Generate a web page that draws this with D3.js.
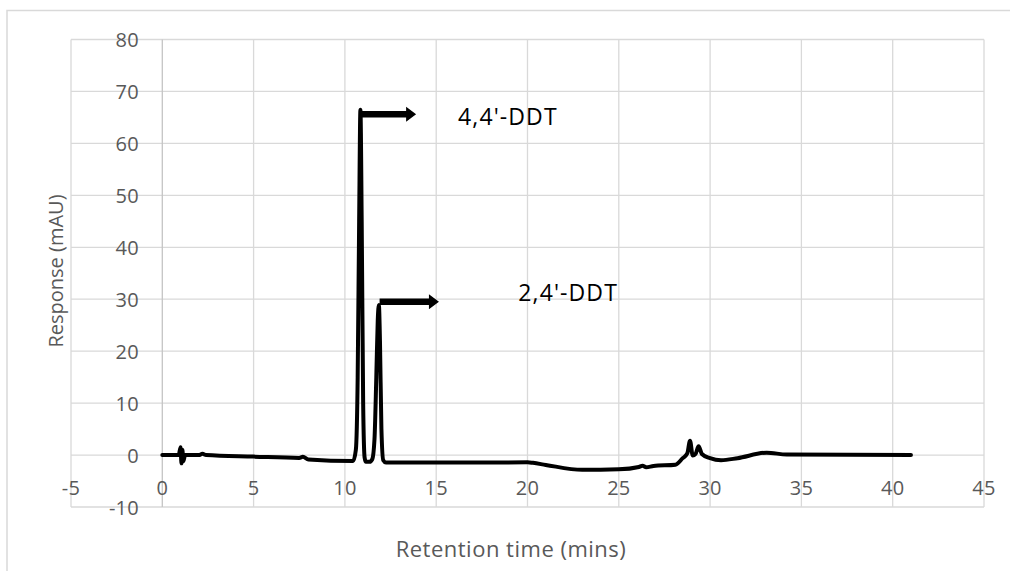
<!DOCTYPE html>
<html>
<head>
<meta charset="utf-8">
<script src="https://cdn.jsdelivr.net/npm/d3@7"></script>
<style>
  html, body { margin: 0; padding: 0; background: #fff; }
  svg { display: block; }
</style>
</head>
<body>
<svg id="chart" width="1010" height="571"></svg>
<script>
// ---- data ----
const retentionTime = [0, 0.9, 1.0, 1.05, 1.1, 1.15, 1.25, 2.0, 2.2, 2.4, 5, 7.5, 7.7, 8.0, 10.45,
  10.6, 10.7, 10.78, 10.85, 10.92, 11.0, 11.08, 11.15, 11.35, 11.5, 11.62, 11.72, 11.8, 11.86, 11.92,
  12.0, 12.1, 12.25, 15, 20, 20.3, 21, 23, 25, 26.1, 26.3, 26.5, 26.9, 28.1, 28.5, 28.75, 28.9, 29.05,
  29.2, 29.37, 29.55, 30.0, 30.6, 31.5, 33.1, 34.2, 41];
const response = [0, 0, 1.5, -1.6, 1.0, -1.2, 0, 0, 0.25, 0, -0.3, -0.55, -0.35, -0.85, -1.15,
  1, 15, 45, 66.5, 45, 10, -0.5, -1.3, -1.3, -0.8, 3, 15, 26, 28.9, 22,
  5, -1.0, -1.45, -1.45, -1.4, -1.5, -1.9, -2.85, -2.75, -2.3, -2.05, -2.35, -2.1, -1.85, -0.6, 0.3, 2.75, -0.1,
  0.2, 1.7, 0.2, -0.6, -1.0, -0.6, 0.45, 0.1, 0.0];

const xTicks = [-5, 0, 5, 10, 15, 20, 25, 30, 35, 40, 45];
const yTicks = [-10, 0, 10, 20, 30, 40, 50, 60, 70, 80];

const peakNames = ["4,4'-DDT", "2,4'-DDT"];
const arrowFromX = [10.85, 11.9];
const arrowToX = [13.9, 15.15];
const arrowY = [65.6, 29.5];
const labelX = [16.2, 19.5];
const labelY = [63.5, 29.6];

const xTitle = "Retention time (mins)";
const yTitle = "Response (mAU)";

// ---- drawing ----
const svg = d3.select("#chart");
const x = d3.scaleLinear().domain([-5, 45]).range([71, 984]);
const y = d3.scaleLinear().domain([-10, 80]).range([507, 39.5]);

svg.append("rect").attr("width", 1010).attr("height", 571).attr("fill", "#fff");
// chart-area border (partially visible)
svg.append("rect").attr("x", 7).attr("y", 10.5).attr("width", 1100).attr("height", 700)
  .attr("fill", "none").attr("stroke", "#d9d9d9").attr("stroke-width", 1.5);

const grid = svg.append("g");
grid.selectAll("line.h").data(yTicks).join("line")
  .attr("x1", x(-5)).attr("x2", x(45))
  .attr("y1", d => y(d)).attr("y2", d => y(d))
  .attr("stroke", "#d9d9d9").attr("stroke-width", 1.3);
grid.selectAll("line.v").data(xTicks).join("line")
  .attr("x1", d => x(d)).attr("x2", d => x(d))
  .attr("y1", y(80)).attr("y2", y(-10))
  .attr("stroke", d => d === 0 ? "#c4c4c4" : "#d9d9d9").attr("stroke-width", 1.3);

// tick labels
const tickFont = "'Open Sans', 'Noto Sans', sans-serif";
svg.append("g").selectAll("text").data(yTicks).join("text")
  .attr("x", x(0) - 23.5).attr("y", d => y(d))
  .attr("text-anchor", "end").attr("dominant-baseline", "central")
  .attr("font-family", tickFont).attr("font-size", 20).attr("letter-spacing", 0.2)
  .attr("fill", "#595959").text(d => d);
svg.append("g").selectAll("text").data(xTicks).join("text")
  .attr("x", d => x(d)).attr("y", 487)
  .attr("text-anchor", "middle").attr("dominant-baseline", "central")
  .attr("font-family", tickFont).attr("font-size", 20).attr("letter-spacing", 0.2)
  .attr("fill", "#595959").text(d => d);

// axis titles
svg.append("text").attr("x", 511).attr("y", 557)
  .attr("text-anchor", "middle").attr("font-family", tickFont).attr("font-size", 22)
  .attr("letter-spacing", 0.5).attr("fill", "#595959").text(xTitle);
svg.append("text").attr("transform", "translate(63,271) rotate(-90)")
  .attr("text-anchor", "middle").attr("font-family", tickFont).attr("font-size", 20)
  .attr("fill", "#595959").text(yTitle);

// series line
const pts = retentionTime.map((t, i) => [t, response[i]]);
const line = d3.line().x(d => x(d[0])).y(d => y(d[1])).curve(d3.curveMonotoneX);
svg.append("path").datum(pts).attr("d", line)
  .attr("fill", "none").attr("stroke", "#000").attr("stroke-width", 4)
  .attr("stroke-linejoin", "round").attr("stroke-linecap", "round");

// arrows
const arrows = peakNames.map((n, i) => ({ x0: arrowFromX[i], x1: arrowToX[i], yv: arrowY[i] }));
svg.append("g").selectAll("path").data(arrows).join("path")
  .attr("d", d => {
    const X0 = x(d.x0), X1 = x(d.x1), Y = y(d.yv);
    const hl = 10, st = 3.2, hh = 7.5;
    return `M${X0},${Y - st}L${X1 - hl},${Y - st}L${X1 - hl},${Y - hh}L${X1},${Y}` +
      `L${X1 - hl},${Y + hh}L${X1 - hl},${Y + st}L${X0},${Y + st}Z`;
  })
  .attr("fill", "#000");

// peak labels
svg.append("g").selectAll("text").data(peakNames).join("text")
  .attr("x", (d, i) => x(labelX[i])).attr("y", (d, i) => y(labelY[i]))
  .attr("font-family", tickFont).attr("font-size", 23).attr("letter-spacing", 1.1)
  .attr("fill", "#000").text(d => d);
</script>
</body>
</html>
